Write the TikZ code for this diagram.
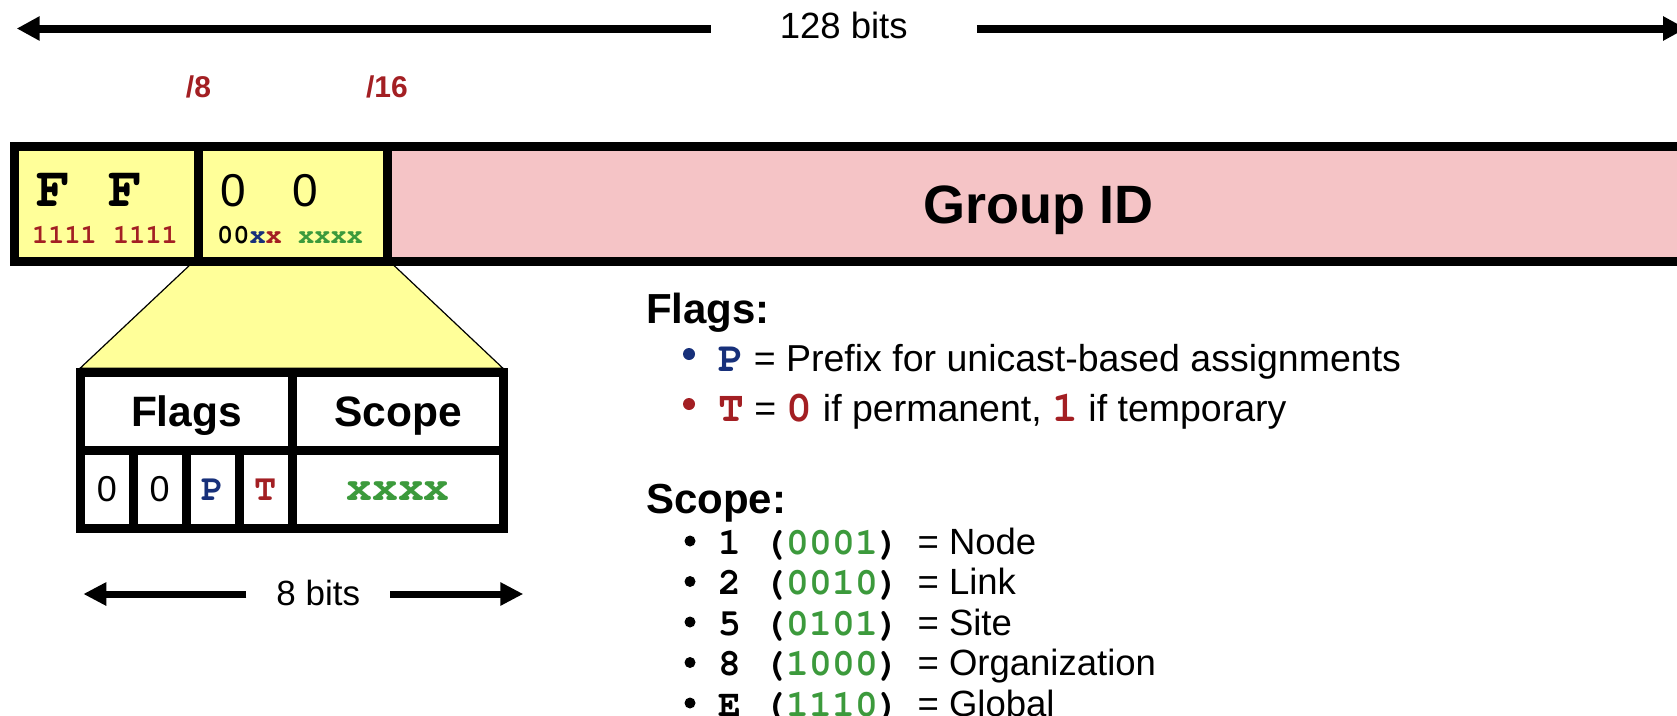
\documentclass[tikz,border=0pt]{standalone}
\usepackage{fontspec}
\setmainfont{Liberation Sans}
\newfontfamily\cour[Extension=.otf,UprightFont=*-regular,BoldFont=*-bold]{texgyrecursor}
\usetikzlibrary{arrows.meta}
\definecolor{cellyellow}{HTML}{FFFF99}
\definecolor{grouppink}{HTML}{F5C4C6}
\definecolor{flagred}{HTML}{A31F23}
\definecolor{flagblue}{HTML}{17307A}
\definecolor{scopegreen}{HTML}{3C9A3C}
\newcommand{\fsz}[1]{\fontsize{#1}{#1}\selectfont}
\newcommand{\cb}{\cour\bfseries}
\newcommand{\redmono}[1]{{\cb\fsz{43}\textcolor{flagred}{#1}}}
\begin{document}
\begin{tikzpicture}[x=1pt,y=-1pt,
  lbl/.style={inner sep=0pt, anchor=base},
  lblw/.style={inner sep=0pt, anchor=base west},
  boxcell/.style={draw, line width=9pt, inner sep=0pt, minimum height=115.3pt},
  tabcell/.style={draw, line width=9pt, fill=white, inner sep=0pt, minimum height=77.7pt},
  widearrow/.style={-{Triangle[length=23pt,width=23pt]}, line width=8pt},
  narrowarrow/.style={-{Triangle[length=23pt,width=22pt]}, line width=7pt},
  dot/.style={circle, inner sep=0pt, minimum size=12pt}
]
\useasboundingbox (0,0) rectangle (1677,715);
\clip (0,0) rectangle (1677,715);

% overall width arrow
\node[inner sep=0pt, minimum width=266pt, text height=19.6pt, text depth=0pt, font={\fsz{36.5}}] (bits128) at (843.7,28.5) {128 bits};
\coordinate (tipL) at (16.7,28.5);
\coordinate (tipR) at (1686,28.5);
\draw[widearrow] (bits128.west) -- (tipL);
\draw[widearrow] (bits128.east) -- (tipR);

% prefix length marks
\node[lbl, font={\bfseries\fsz{30}}, text=flagred] (p8) at (198.5,97) {/8};
\node[lbl, font={\bfseries\fsz{30}}, text=flagred] (p16) at (387,97) {/16};

% zoom funnel from the second byte down to the detail table
\draw[fill=cellyellow, line width=1.2pt] (191.7,263.3) -- (391.7,263.3) -- (503,368.3) -- (80,368.3) -- cycle;

% address layout
\node[boxcell, fill=grouppink, minimum width=1333pt] (gid) at (1053.5,203.85) {};
\node[boxcell, fill=cellyellow, minimum width=184pt] (ff) at (106.5,203.85) {};
\node[boxcell, fill=cellyellow, minimum width=188.5pt] (zz) at (292.75,203.85) {};

\node[lbl, font={\cb\fsz{57}}] (f1) at (54,206) {F};
\node[lbl, font={\cb\fsz{57}}] (f2) at (126,206) {F};
\node[lbl, font={\cb\fsz{27}}, text=flagred] (ffbits) at (105,243) {1111 1111};
\node[lbl, font={\fsz{46}}] (z1) at (233.5,206) {0};
\node[lbl, font={\fsz{46}}] (z2) at (305,206) {0};
\node[lbl, font={\cb\fsz{27}}] (zzbits) at (290,243) {00\textcolor{flagblue}{x}\textcolor{flagred}{x} \textcolor{scopegreen}{xxxx}};
\node[lbl, font={\bfseries\fsz{54}}] (gidtext) at (1038.5,223) {Group ID};

% detail table of the flags/scope byte
\node[tabcell, minimum width=212pt, text height=30.1pt, text depth=0pt, font={\bfseries\fsz{42.5}}] (hflags) at (186.5,411.65) {Flags};
\node[tabcell, minimum width=211.3pt, text height=30.1pt, text depth=0pt, font={\bfseries\fsz{42.5}}] (hscope) at (398.15,411.65) {Scope};
\node[tabcell, minimum width=52.8pt, text height=24.5pt, text depth=0pt, font={\fsz{36}}] (c1) at (106.9,489.35) {0};
\node[tabcell, minimum width=52.9pt, text height=24.5pt, text depth=0pt, font={\fsz{36}}] (c2) at (159.75,489.35) {0};
\node[tabcell, minimum width=53.3pt, text height=22pt, text depth=0pt, font={\cb\fsz{37}}, text=flagblue] (c3) at (212.85,489.35) {P};
\node[tabcell, minimum width=53pt, text height=22pt, text depth=0pt, font={\cb\fsz{37}}, text=flagred] (c4) at (266,489.35) {T};
\node[tabcell, minimum width=211.3pt, text height=22.7pt, text depth=0pt, font={\cb\fsz{43}}, text=scopegreen] (cs) at (398.15,489.35) {xxxx};

% width of the detail byte
\node[inner sep=0pt, minimum width=143.3pt, text height=22pt, text depth=0pt, font={\fsz{35}}] (bits8) at (318.3,594) {8 bits};
\coordinate (tip8L) at (83.3,594);
\coordinate (tip8R) at (523.3,594);
\draw[narrowarrow] (bits8.west) -- (tip8L);
\draw[narrowarrow] (bits8.east) -- (tip8R);

% flag legend
\node[lblw, font={\bfseries\fsz{42}}] (flagshead) at (646,323) {Flags:};
\node[dot, fill=flagblue] (fb1) at (689,354) {};
\node[lblw, font={\fsz{37.5}}] (fl1) at (718,371) {{\cb\fsz{42}\textcolor{flagblue}{P}} = Prefix for unicast-based assignments};
\node[dot, fill=flagred] (fb2) at (689,404) {};
\node[lblw, font={\fsz{37.5}}] (fl2) at (718,421.7) {\redmono{T} = \redmono{0} if permanent, \redmono{1} if temporary};

% scope legend
\node[lblw, font={\bfseries\fsz{42}}] (scopehead) at (646,513) {Scope:};
\foreach \yb/\code/\bin/\name [count=\i] in {554/1/0001/Node, 594.5/2/0010/Link, 635/5/0101/Site, 675.5/8/1000/Organization, 716/E/1110/Global} {
  \node[dot, minimum size=11pt, fill=black] (sb\i) at (690,\yb-13) {};
  \node[lblw, font={\fsz{36.5}}] (sl\i) at (718,\yb) {{\cb\fsz{38}\code\ (\textcolor{scopegreen}{\bin})}\hspace{17pt}= \name};
}
\end{tikzpicture}
\end{document}
